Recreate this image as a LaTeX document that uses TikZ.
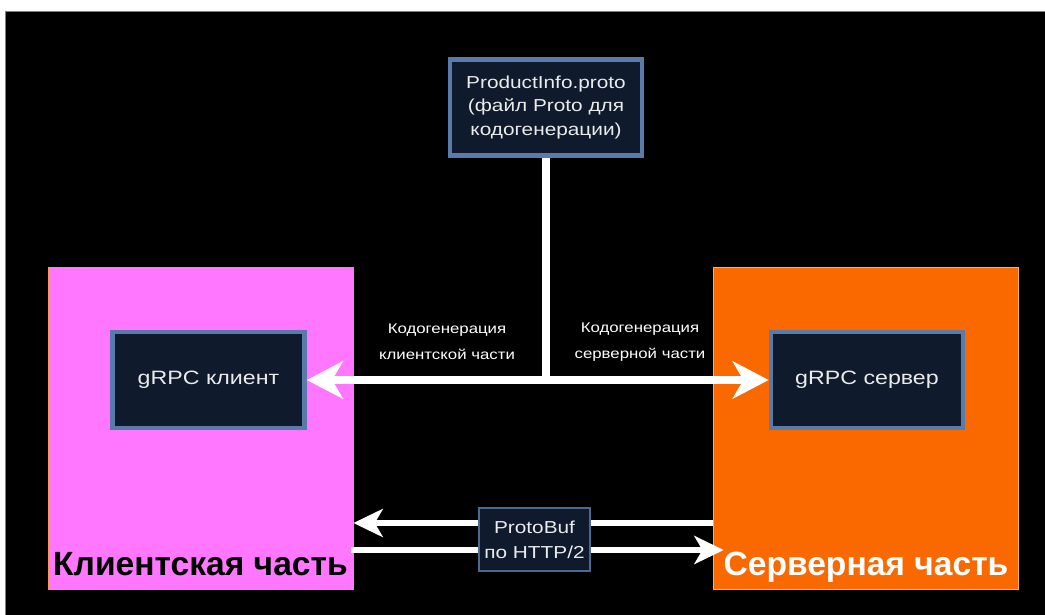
\documentclass[tikz,border=0pt]{standalone}
\usepackage{fontspec}
\setmainfont{Liberation Sans}
\newfontfamily\widefont{Liberation Sans}[FakeStretch=1.2]
\usetikzlibrary{arrows.meta,positioning}

\definecolor{clientpink}{HTML}{FF77FF}
\definecolor{serverorange}{HTML}{FA6800}
\definecolor{boxnavy}{HTML}{0F1A2C}
\definecolor{boxedge}{HTML}{5A7BAA}

\begin{document}
\begin{tikzpicture}[x=0.75pt,y=-0.75pt,
  navybox/.style={draw=boxedge,line width=3.5pt,fill=boxnavy,text=white!92!black,
    minimum width=144pt,minimum height=72pt,align=center},
  sidebox/.style={minimum width=229pt,minimum height=241.5pt},
  bigtext/.style={font=\fontsize{25.2}{28}\selectfont\bfseries,anchor=base},
  smalltext/.style={text=white,align=center,font=\widefont\fontsize{10.5}{19.5}\selectfont},
  thickarrow/.style={draw=white,line width=5.5pt,-{Stealth[length=27pt,width=28pt,inset=8pt]}},
  wirearrow/.style={draw=white,line width=4pt,-{Stealth[length=22pt,width=21pt,inset=6pt]}}]

  \useasboundingbox (0,0) rectangle (1045,614);
  \fill[white] (0,0) rectangle (1045,614);
  \filldraw[draw=gray,fill=black] (5,11) rectangle (1050,620);

  % client and server sides
  \node[sidebox,fill=clientpink,draw=orange!60!pink] (cside) at (200.5,428) {};
  \node[sidebox,fill=serverorange,draw=orange!60] (sside) at (866,428) {};
  \node[bigtext,text=black] (clabel) at ([yshift=10.5pt]cside.south) {Клиентская часть};
  \node[bigtext,text=white] (slabel) at ([yshift=10.5pt]sside.south) {Серверная часть};

  % proto file and gRPC boxes
  \node[navybox,font=\widefont\fontsize{13}{17.6}\selectfont] (proto) at (546,107.5)
    {ProductInfo.proto\\(файл Proto для\\кодогенерации)};
  \node[navybox,font=\widefont\fontsize{14.5}{17}\selectfont] (client) at (208.5,380) {gRPC клиент};
  \node[navybox,font=\widefont\fontsize{14.5}{17}\selectfont] (server) at (867,380) {gRPC сервер};

  % code generation arrows
  \coordinate (junc) at (546,380);
  \draw[white,line width=5.5pt] (proto) -- (junc);
  \foreach \t in {client,server}
    \draw[thickarrow] (junc) -- (\t);
  \foreach \n/\x/\l in {cgc/447/клиентской части, cgs/640/серверной части}
    \node[smalltext] (\n) at (\x,342) {Кодогенерация\\\l};

  % ProtoBuf over HTTP/2
  \coordinate (resy) at (0,523);
  \coordinate (reqy) at (0,550);
  \draw[wirearrow] (sside.west |- resy) -- (cside.east |- resy);
  \draw[wirearrow,shorten <=-2pt,shorten >=-8pt] (cside.east |- reqy) -- (sside.west |- reqy);
  \node[navybox,line width=1.2pt,draw=boxedge!85!black,minimum width=83.5pt,minimum height=47.5pt,
    font=\widefont\fontsize{13}{19}\selectfont] (pbuf) at (534.5,539.5) {ProtoBuf\\по HTTP/2};

\end{tikzpicture}
\end{document}
